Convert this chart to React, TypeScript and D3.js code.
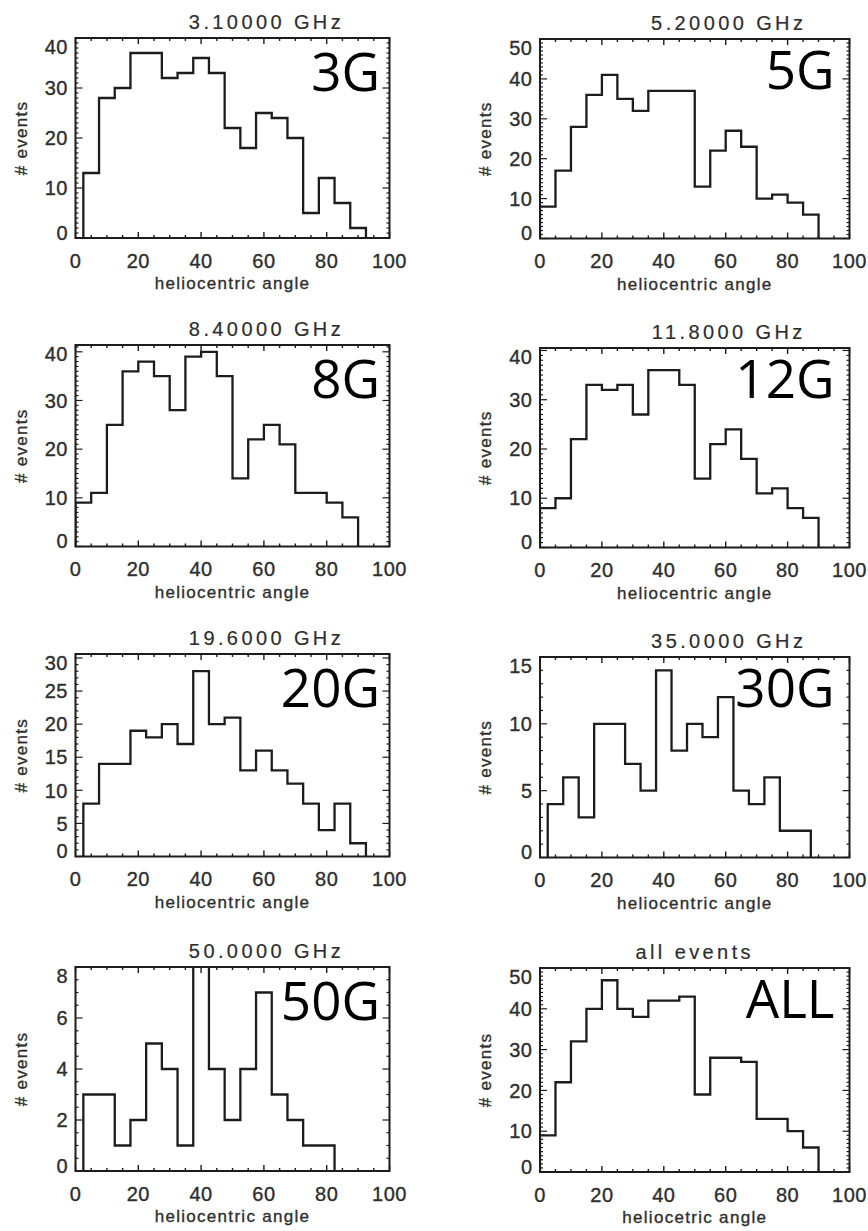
import React from "react";
import * as d3 from "d3";

// ---------- data ----------
const panelTitles = [
  "3.10000 GHz",
  "5.20000 GHz",
  "8.40000 GHz",
  "11.8000 GHz",
  "19.6000 GHz",
  "35.0000 GHz",
  "50.0000 GHz",
  "all events",
];
const panelTags = ["3G", "5G", "8G", "12G", "20G", "30G", "50G", "ALL"];
const xAxisTitles = [
  "heliocentric angle",
  "heliocentric angle",
  "heliocentric angle",
  "heliocentric angle",
  "heliocentric angle",
  "heliocentric angle",
  "heliocentric angle",
  "heliocetric angle",
];
const yAxisTitle = "# events";
const xTickValues = [0, 20, 40, 60, 80, 100];
const xMinorStep = 5;
const binWidth = 5;
const binStarts = [2.5, 0, 0, 0, 2.5, 2.5, 2.5, 0];
const yMaxes = [40, 50, 41.4, 40.5, 30.6, 15, 8, 50];
const yMajorSteps = [10, 10, 10, 10, 5, 5, 2, 10];
const yMinorSteps = [1, 1, 1, 1, 1, 1, 0.5, 1];

const counts3G = [13, 28, 30, 37, 37, 32, 33, 36, 33, 22, 18, 25, 24, 20, 5, 12, 7, 2];
const counts5G = [8, 17, 28, 36, 41, 35, 32, 37, 37, 37, 13, 22, 27, 23, 10, 11, 9, 6];
const counts8G = [9, 11, 25, 36, 38, 35, 28, 39, 40, 35, 14, 22, 25, 21, 11, 11, 9, 6];
const counts12G = [8, 10, 22, 33, 32, 33, 27, 36, 36, 33, 14, 21, 24, 18, 11, 12, 8, 6];
const counts20G = [8, 14, 14, 19, 18, 20, 17, 28, 20, 21, 13, 16, 13, 11, 8, 4, 8, 2];
const counts35G = [4, 6, 3, 10, 10, 7, 5, 14, 8, 10, 9, 12, 5, 4, 6, 2, 2];
const counts50G = [3, 3, 1, 2, 5, 4, 1, 9, 4, 2, 4, 7, 3, 2, 1, 1];
const countsAll = [9, 22, 32, 40, 47, 40, 38, 42, 42, 43, 19, 28, 28, 27, 13, 13, 10, 6];

const seriesList = [
  counts3G,
  counts5G,
  counts8G,
  counts12G,
  counts20G,
  counts35G,
  counts50G,
  countsAll,
];

// ---------- layout ----------
const W = 868;
const H = 1231;
const frames = [
  { x0: 75.5, x1: 389.5, y0: 38, y1: 238 },
  { x0: 540, x1: 849.5, y0: 39, y1: 238.5 },
  { x0: 75.5, x1: 389.5, y0: 345, y1: 546.5 },
  { x0: 540, x1: 849.5, y0: 348, y1: 547.5 },
  { x0: 75.5, x1: 389.5, y0: 654, y1: 856.5 },
  { x0: 540, x1: 849.5, y0: 657, y1: 857.5 },
  { x0: 75.5, x1: 389.5, y0: 967, y1: 1171 },
  { x0: 540, x1: 849.5, y0: 968, y1: 1172 },
];
const titleShift = [34, 34, 34, 34, 34, 34, 34, 0];

const INK = "#1c1c1c";
const TEXT = "#2e2e2e";
const FONT = "'Liberation Sans', Arial, sans-serif";

function Panel({ i }: { i: number }) {
  const f = frames[i];
  const leftCol = i % 2 === 0;
  const x = d3.scaleLinear().domain([0, 100]).range([f.x0, f.x1]);
  const y = d3.scaleLinear().domain([0, yMaxes[i]]).range([f.y1, f.y0]);
  const vals = seriesList[i];
  const start = binStarts[i];

  const pts: [number, number][] = [[start, 0]];
  vals.forEach((v, k) => {
    pts.push([start + k * binWidth, v]);
    pts.push([start + (k + 1) * binWidth, v]);
  });
  pts.push([start + vals.length * binWidth, 0]);
  const line = d3
    .line<[number, number]>()
    .x((d) => x(d[0]))
    .y((d) => y(d[1]));

  const xMinor = d3.range(0, 100 + 1e-6, xMinorStep);
  const yMajor = d3.range(0, yMaxes[i] + 1e-6, yMajorSteps[i]);
  const yMinor = d3.range(0, yMaxes[i] + 1e-6, yMinorSteps[i]);
  const isMajorY = (v: number) =>
    Math.abs(v / yMajorSteps[i] - Math.round(v / yMajorSteps[i])) < 1e-6;

  const majLen = 6;
  const minLen = 3;
  const clipId = `clip-${i}`;
  const cx = (f.x0 + f.x1) / 2;
  const cy = (f.y0 + f.y1) / 2;
  const textStroke = { stroke: TEXT, strokeWidth: 0.35 };

  return (
    <g>
      <defs>
        <clipPath id={clipId}>
          <rect x={f.x0} y={f.y0} width={f.x1 - f.x0} height={f.y1 - f.y0} />
        </clipPath>
      </defs>
      {/* x ticks, bottom and top */}
      {xMinor.map((v) => {
        const len = v % 20 === 0 ? majLen : minLen;
        return (
          <g key={`xt${v}`} stroke={INK} strokeWidth={1.4}>
            <line x1={x(v)} x2={x(v)} y1={f.y1} y2={f.y1 - len} />
            <line x1={x(v)} x2={x(v)} y1={f.y0} y2={f.y0 + len} />
          </g>
        );
      })}
      {/* y ticks, left and right */}
      {yMinor.map((v) => {
        const len = isMajorY(v) ? majLen + 1 : minLen;
        return (
          <g key={`yt${v}`} stroke={INK} strokeWidth={1.2}>
            <line x1={f.x0} x2={f.x0 + len} y1={y(v)} y2={y(v)} />
            <line x1={f.x1} x2={f.x1 - len} y1={y(v)} y2={y(v)} />
          </g>
        );
      })}
      {/* histogram */}
      <path
        d={line(pts) || ""}
        fill="none"
        stroke={INK}
        strokeWidth={2.3}
        strokeLinejoin="miter"
        clipPath={`url(#${clipId})`}
      />
      {/* frame */}
      <rect
        x={f.x0}
        y={f.y0}
        width={f.x1 - f.x0}
        height={f.y1 - f.y0}
        fill="none"
        stroke={INK}
        strokeWidth={2}
      />
      {/* x tick labels */}
      {xTickValues.map((v) => (
        <text
          key={`xl${v}`}
          x={x(v)}
          y={f.y1 + 29.5}
          textAnchor="middle"
          fontFamily={FONT}
          fontSize={20}
          letterSpacing={0.5}
          fill={TEXT}
          {...textStroke}
        >
          {v}
        </text>
      ))}
      {/* y tick labels */}
      {yMajor.map((v) => {
        const c = Math.max(f.y0 + 8.5, Math.min(f.y1 - 5.5, y(v)));
        return (
          <text
            key={`yl${v}`}
            x={f.x0 - 7.5}
            y={c}
            dy="0.36em"
            textAnchor="end"
            fontFamily={FONT}
            fontSize={20}
            letterSpacing={0.5}
            fill={TEXT}
            {...textStroke}
          >
            {v}
          </text>
        );
      })}
      {/* title */}
      <text
        x={cx + titleShift[i]}
        y={f.y0 - 9.5}
        textAnchor="middle"
        fontFamily={FONT}
        fontSize={20}
        letterSpacing={3.4}
        fill={TEXT}
        stroke={TEXT}
        strokeWidth={0.2}
      >
        {panelTitles[i]}
      </text>
      {/* x axis title */}
      <text
        x={cx}
        y={f.y1 + 51}
        textAnchor="middle"
        fontFamily={FONT}
        fontSize={17}
        letterSpacing={1.3}
        fill={TEXT}
        {...textStroke}
      >
        {xAxisTitles[i]}
      </text>
      {/* y axis title */}
      <text
        transform={`translate(${f.x0 - 49},${cy}) rotate(-90)`}
        textAnchor="middle"
        fontFamily={FONT}
        fontSize={17}
        letterSpacing={1.3}
        fill={TEXT}
        {...textStroke}
      >
        {yAxisTitle}
      </text>
      {/* big tag */}
      <text
        x={f.x1 - (leftCol ? 9.5 : 15)}
        y={f.y0 + (leftCol ? 53 : 50)}
        textAnchor="end"
        fontFamily="'Open Sans', sans-serif"
        fontSize={53}
        fill="#000"
      >
        {panelTags[i]}
      </text>
    </g>
  );
}

export default function App() {
  return (
    <svg
      width={W}
      height={H}
      viewBox={`0 0 ${W} ${H}`}
      style={{ position: "absolute", left: 0, top: 0, background: "#fff" }}
    >
      <rect x={0} y={0} width={W} height={H} fill="#fff" />
      {frames.map((_, i) => (
        <Panel key={i} i={i} />
      ))}
    </svg>
  );
}
